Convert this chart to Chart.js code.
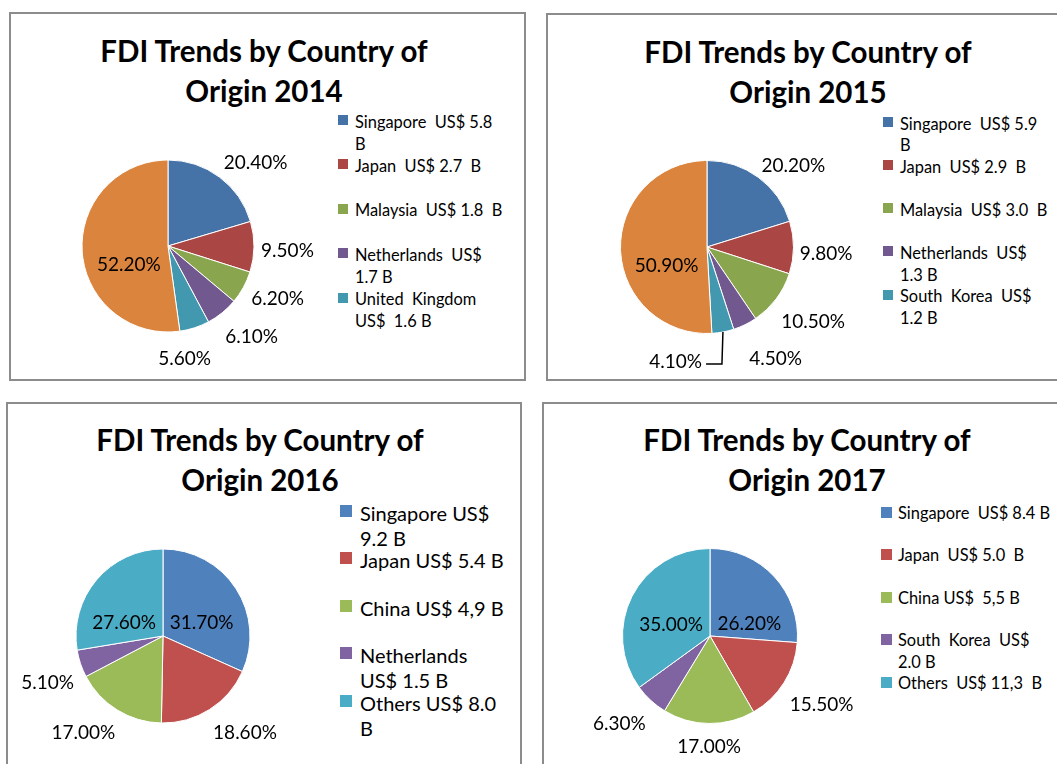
<!DOCTYPE html>
<html>
<head>
<meta charset="utf-8">
<title>FDI Trends by Country of Origin</title>
<script src="https://cdn.jsdelivr.net/npm/chart.js@4"></script>
<style>
  body { margin: 0; background: #fff; }
  #page { position: relative; width: 1057px; height: 764px; overflow: hidden; background: #fff; font-family: Lato, "Open Sans", sans-serif; color: #000; }
  .frame { position: absolute; box-sizing: border-box; border: 2px solid #8c8c8c; }
  .title { position: absolute; width: 440px; text-align: center; font-weight: bold; font-size: 29.5px; line-height: 40px; white-space: pre; }
  .legend { position: absolute; white-space: pre; }
  .legend .item { position: relative; }
  .legend .box { position: absolute; }
  canvas { position: absolute; }
</style>
</head>
<body>
<div id="page"></div>
<script>
// --- données ---
const countries2014 = ["Singapore", "Japan", "Malaysia", "Netherlands", "United Kingdom", "Others"];
const shares2014 = [20.4, 9.5, 6.2, 6.1, 5.6, 52.2];
const legend2014 = [["Singapore  US$ 5.8", "B"], ["Japan  US$ 2.7  B"], ["Malaysia  US$ 1.8  B"], ["Netherlands  US$", "1.7 B"], ["United  Kingdom", "US$  1.6 B"]];

const countries2015 = ["Singapore", "Japan", "Malaysia", "Netherlands", "South Korea", "Others"];
const shares2015 = [20.2, 9.8, 10.5, 4.5, 4.1, 50.9];
const legend2015 = [["Singapore  US$ 5.9", "B"], ["Japan  US$ 2.9  B"], ["Malaysia  US$ 3.0  B"], ["Netherlands  US$", "1.3 B"], ["South  Korea  US$", "1.2 B"]];

const countries2016 = ["Singapore", "Japan", "China", "Netherlands", "Others"];
const shares2016 = [31.7, 18.6, 17.0, 5.1, 27.6];
const legend2016 = [["Singapore US$", "9.2 B"], ["Japan US$ 5.4 B"], ["China US$ 4,9 B"], ["Netherlands", "US$ 1.5 B"], ["Others US$ 8.0", "B"]];

const countries2017 = ["Singapore", "Japan", "China", "South Korea", "Others"];
const shares2017 = [26.2, 15.5, 17.0, 6.3, 35.0];
const legend2017 = [["Singapore  US$ 8.4 B"], ["Japan  US$ 5.0  B"], ["China US$  5,5 B"], ["South  Korea  US$", "2.0 B"], ["Others  US$ 11,3  B"]];

// --- couleurs ---
const paletteA = ["#4572A7", "#AA4643", "#89A54E", "#71588F", "#4198AF", "#DB843D"];
const paletteB = ["#4F81BD", "#C0504D", "#9BBB59", "#8064A2", "#4BACC6"];

// --- mise en page (styles, pas des données) ---
const panels = [
  { year: "2014", countries: countries2014, shares: shares2014, legend: legend2014, colors: paletteA,
    frame: [9, 12, 517, 369], titleX: 264, titleTop: 31.3, cx: 167.5, cy: 246, r: 86,
    shift: [9.5, 1.4, -3.4, -3.8, 9.6, -20.5], dist: [1.41, 1.39, 1.41, 1.43, 1.32, 0.5], leader: -1,
    leg: { x: 338, top: 110.6, slot: 44.4, lh: 22.2, size: 16.4, box: 10, textX: 355, boxDy: -1.7 } },
  { year: "2015", countries: countries2015, shares: shares2015, legend: legend2015, colors: paletteA,
    frame: [546, 13, 520, 368], titleX: 808, titleTop: 31.9, cx: 707, cy: 246.5, r: 86.5,
    shift: [10.1, 2.5, -1.8, -5.7, 26, -22.8], dist: [1.376, 1.378, 1.5, 1.506, 1.366, 0.512], leader: 4,
    leg: { x: 883, top: 112.5, slot: 43.2, lh: 21.7, size: 16.4, box: 10, textX: 900, boxDy: -1.5 } },
  { year: "2016", countries: countries2016, shares: shares2016, legend: legend2016, colors: paletteB,
    frame: [6, 402, 516, 380], titleX: 260, titleTop: 420.3, cx: 163, cy: 636, r: 87,
    shift: [13.4, -8, 7.9, -3.4, -20.9], dist: [0.471, 1.454, 1.437, 1.429, 0.475], leader: -1,
    leg: { x: 340, top: 500.8, slot: 47.5, lh: 25, size: 20, box: 12, textX: 360, boxDy: -2.5 } },
  { year: "2017", countries: countries2017, shares: shares2017, legend: legend2017, colors: paletteB,
    frame: [542, 402, 530, 380], titleX: 807, titleTop: 420.3, cx: 709.5, cy: 636, r: 87.5,
    shift: [24.1, -0.8, -0.3, 3.6, -10.3], dist: [0.474, 1.496, 1.254, 1.434, 0.465], leader: -1,
    leg: { x: 881, top: 501.5, slot: 42.5, lh: 21.6, size: 16.4, box: 11, textX: 898, boxDy: 0 } },
];

const LABEL_SIZE = 19;

// Étiquettes de pourcentage placées autour de chaque part
const sliceLabels = {
  id: "sliceLabels",
  afterDatasetsDraw(chart, args, opts) {
    const ctx = chart.ctx;
    const meta = chart.getDatasetMeta(0);
    const values = chart.data.datasets[0].data;
    ctx.save();
    ctx.font = LABEL_SIZE + "px Lato, 'Open Sans', sans-serif";
    ctx.fillStyle = "#000";
    ctx.strokeStyle = "#000";
    ctx.lineWidth = 1.5;
    ctx.textAlign = "center";
    ctx.textBaseline = "alphabetic";
    meta.data.forEach((arc, i) => {
      const p = arc.getProps(["x", "y", "startAngle", "endAngle", "outerRadius"], true);
      const mid = (p.startAngle + p.endAngle) / 2;
      const a = mid + opts.shift[i] * Math.PI / 180;
      const d = opts.dist[i] * p.outerRadius;
      const lx = p.x + Math.cos(a) * d;
      const ly = p.y + Math.sin(a) * d;
      const text = values[i].toFixed(2) + "%";
      ctx.fillText(text, lx, ly + LABEL_SIZE * 0.36);
      if (opts.leader === i) {
        const w = ctx.measureText(text).width;
        const ex = p.x + Math.cos(mid) * p.outerRadius;
        const ey = p.y + Math.sin(mid) * p.outerRadius;
        ctx.beginPath();
        ctx.moveTo(ex, ey);
        ctx.lineTo(ex - 1, ly + 3);
        ctx.lineTo(lx + w / 2 + 4, ly + 3);
        ctx.stroke();
      }
    });
    ctx.restore();
  }
};

const page = document.getElementById("page");
const CW = 320, CH = 280;

panels.forEach(pn => {
  const frame = document.createElement("div");
  frame.className = "frame";
  frame.style.left = pn.frame[0] + "px";
  frame.style.top = pn.frame[1] + "px";
  frame.style.width = pn.frame[2] + "px";
  frame.style.height = pn.frame[3] + "px";
  page.appendChild(frame);

  const title = document.createElement("div");
  title.className = "title";
  title.style.left = (pn.titleX - 220) + "px";
  title.style.top = pn.titleTop + "px";
  title.textContent = "FDI Trends by Country of\nOrigin " + pn.year;
  page.appendChild(title);

  const canvas = document.createElement("canvas");
  canvas.width = CW;
  canvas.height = CH;
  canvas.style.left = (pn.cx - CW / 2) + "px";
  canvas.style.top = (pn.cy - CH / 2) + "px";
  page.appendChild(canvas);

  new Chart(canvas.getContext("2d"), {
    type: "pie",
    data: {
      labels: pn.countries,
      datasets: [{
        data: pn.shares,
        backgroundColor: pn.colors,
        borderColor: "#ffffff",
        borderWidth: 1,
        radius: pn.r,
      }],
    },
    options: {
      responsive: false,
      animation: false,
      layout: { padding: 0 },
      plugins: {
        legend: { display: false },
        tooltip: { enabled: false },
        sliceLabels: { shift: pn.shift, dist: pn.dist, leader: pn.leader },
      },
    },
    plugins: [sliceLabels],
  });

  // Légende à droite
  const lg = pn.leg;
  const legend = document.createElement("div");
  legend.className = "legend";
  legend.style.left = lg.x + "px";
  legend.style.top = lg.top + "px";
  legend.style.fontSize = lg.size + "px";
  legend.style.lineHeight = lg.lh + "px";
  pn.legend.forEach((lines, i) => {
    const item = document.createElement("div");
    item.className = "item";
    item.style.height = lg.slot + "px";
    const box = document.createElement("div");
    box.className = "box";
    box.style.width = lg.box + "px";
    box.style.height = lg.box + "px";
    box.style.background = pn.colors[i];
    box.style.left = "0px";
    box.style.top = (lg.lh / 2 - lg.box / 2 + lg.boxDy) + "px";
    const txt = document.createElement("div");
    txt.style.marginLeft = (lg.textX - lg.x) + "px";
    txt.textContent = lines.join("\n");
    item.appendChild(box);
    item.appendChild(txt);
    legend.appendChild(item);
  });
  page.appendChild(legend);
});
</script>
</body>
</html>
